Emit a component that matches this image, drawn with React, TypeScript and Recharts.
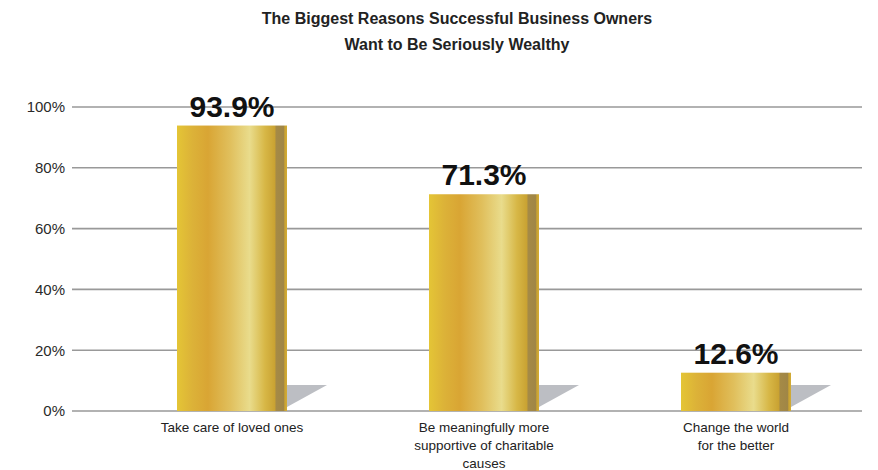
import { Bar, BarChart, CartesianGrid, LabelList, XAxis, YAxis } from 'recharts';

const categories = [
  ['Take care of loved ones'],
  ['Be meaningfully more', 'supportive of charitable', 'causes'],
  ['Change the world', 'for the better']
];
const shares = [93.9, 71.3, 12.6];
const yTicks = [0, 20, 40, 60, 80, 100];
const titleLines = [
  'The Biggest Reasons Successful Business Owners',
  'Want to Be Seriously Wealthy'
];

const data = categories.map((lines, i) => ({ name: lines.join(' '), lines, value: shares[i] }));

const FONT = '"Liberation Sans", Arial, sans-serif';

const GoldBar = (props: any) => {
  const { x, y, width, height } = props;
  const bottom = y + height;
  const right = x + width;
  return (
    <g>
      <polygon
        points={`${right},${bottom - 26} ${right + 40},${bottom - 26} ${right},${bottom - 4}`}
        fill="#bcbec3"
      />
      <rect x={x} y={y} width={width} height={height} fill="url(#gold)" />
    </g>
  );
};

const CategoryTick = (props: any) => {
  const { x, y, payload } = props;
  const item = data.find((d) => d.name === payload.value);
  const lines = item ? item.lines : [payload.value];
  return (
    <text x={x} y={y} textAnchor="middle" fill="#222" fontSize={13.5} fontFamily={FONT}>
      {lines.map((line, i) => (
        <tspan key={i} x={x} dy={i === 0 ? 13 : 18}>
          {line}
        </tspan>
      ))}
    </text>
  );
};

const ValueLabel = (props: any) => {
  const { x, y, width, value } = props;
  return (
    <text
      x={x + width / 2}
      y={y - 9}
      textAnchor="middle"
      fill="#111"
      fontSize={30}
      fontWeight="bold"
      fontFamily={FONT}
    >
      {`${value}%`}
    </text>
  );
};

export default function App() {
  return (
    <div style={{ position: 'absolute', left: 0, top: 0, width: 878, height: 470, background: '#fff' }}>
      <div
        style={{
          position: 'absolute',
          left: 0,
          top: 6,
          width: 914,
          textAlign: 'center',
          fontFamily: FONT,
          fontWeight: 'bold',
          fontSize: 16,
          lineHeight: '26px',
          color: '#222'
        }}
      >
        {titleLines.map((t) => (
          <div key={t}>{t}</div>
        ))}
      </div>
      <BarChart
        width={878}
        height={470}
        data={data}
        margin={{ top: 107, right: 16, left: 0, bottom: 0 }}
      >
        <defs>
          <linearGradient id="gold" x1="0" y1="0" x2="1" y2="0">
            <stop offset="0%" stopColor="#e4c536" />
            <stop offset="14%" stopColor="#dcb238" />
            <stop offset="28%" stopColor="#d9a534" />
            <stop offset="48%" stopColor="#e0bf5c" />
            <stop offset="66%" stopColor="#e9dc8c" />
            <stop offset="80%" stopColor="#d7b746" />
            <stop offset="89%" stopColor="#c9a232" />
            <stop offset="90%" stopColor="#a58a46" />
            <stop offset="97%" stopColor="#a08646" />
            <stop offset="98%" stopColor="#c9a232" />
            <stop offset="100%" stopColor="#d2ac36" />
          </linearGradient>
        </defs>
        <CartesianGrid vertical={false} stroke="#999" strokeWidth={1.6} />
        <XAxis
          dataKey="name"
          axisLine={false}
          tickLine={false}
          height={59}
          interval={0}
          padding={{ left: 34, right: 0 }}
          tick={<CategoryTick />}
        />
        <YAxis
          domain={[0, 100]}
          ticks={yTicks}
          width={72}
          axisLine={false}
          tickLine={false}
          tickSize={5}
          tickMargin={2}
          tickFormatter={(v: number) => `${v}%`}
          tick={{ fill: '#2a2a2a', fontSize: 15, fontFamily: FONT }}
        />
        <Bar dataKey="value" barSize={110} shape={<GoldBar />} isAnimationActive={false}>
          <LabelList dataKey="value" content={<ValueLabel />} />
        </Bar>
      </BarChart>
    </div>
  );
}
